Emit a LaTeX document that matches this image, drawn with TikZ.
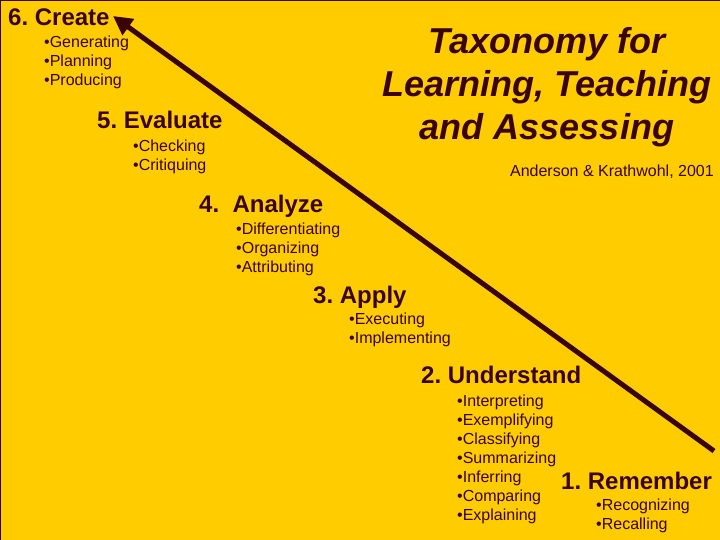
\documentclass[tikz,border=0pt]{standalone}
\usepackage{fontspec}
\setmainfont{Liberation Sans}
\usetikzlibrary{arrows.meta}
\frenchspacing
\definecolor{bgyellow}{RGB}{255,204,0}
\definecolor{ink}{RGB}{58,4,4}
\tikzset{
  head/.style={anchor=base west, inner sep=0pt, text=ink, font=\fontsize{24}{28}\selectfont\bfseries},
  item/.style={anchor=base west, inner sep=0pt, text=ink, font=\fontsize{16}{19}\selectfont},
  title/.style={anchor=base, inner sep=0pt, text=ink, font=\fontsize{36}{43}\selectfont\bfseries\itshape},
  cite/.style={anchor=base east, inner sep=0pt, text=ink, font=\fontsize{16}{19}\selectfont},
  arr/.style={draw=ink, line width=5pt, -{Triangle[length=19pt,width=19pt]}},
}
\begin{document}
\begin{tikzpicture}[x=1pt,y=-1pt]
\fill[bgyellow] (0,0) rectangle (720,540);
\useasboundingbox (0,0) rectangle (720,540);
\draw[ink, line width=2pt] (0,540) -- (0,0) -- (720,0);
% title
\node[title] (t1) at (547,54) {Taxonomy for};
\node[title] (t2) at (547,97) {Learning, Teaching};
\node[title] (t3) at (547,140) {and Assessing};
\node[cite] (cite) at (714,177) {Anderson \& Krathwohl, 2001};
% 6
\node[head] (h6) at (8,26) {6. Create};
\node[item] (i61) at (44,48) {•Generating};
\node[item] (i62) at (44,67) {•Planning};
\node[item] (i63) at (44,86) {•Producing};
% 5
\node[head] (h5) at (97,129) {5. Evaluate};
\node[item] (i51) at (133,152) {•Checking};
\node[item] (i52) at (133,171) {•Critiquing};
% 4
\node[head] (h4) at (199,212) {4.\ \ Analyze};
\node[item] (i41) at (236,234) {•Differentiating};
\node[item] (i42) at (236,253) {•Organizing};
\node[item] (i43) at (236,272) {•Attributing};
% 3
\node[head] (h3) at (313,303) {3. Apply};
\node[item] (i31) at (349,324) {•Executing};
\node[item] (i32) at (349,343) {•Implementing};
% 2
\node[head] (h2) at (421,383) {2. Understand};
\node[item] (i21) at (457,406) {•Interpreting};
\node[item] (i22) at (457,425) {•Exemplifying};
\node[item] (i23) at (457,444) {•Classifying};
\node[item] (i24) at (457,463) {•Summarizing};
\node[item] (i25) at (457,482) {•Inferring};
\node[item] (i26) at (457,501) {•Comparing};
\node[item] (i27) at (457,520) {•Explaining};
% 1
\node[head] (h1) at (561,489) {1. Remember};
\node[item] (i11) at (596,510) {•Recognizing};
\node[item] (i12) at (596,529) {•Recalling};
% arrow
\coordinate (tail) at (714,451);
\coordinate (tip) at (113,16);
\draw[arr] (tail) -- (tip);
\end{tikzpicture}
\end{document}
